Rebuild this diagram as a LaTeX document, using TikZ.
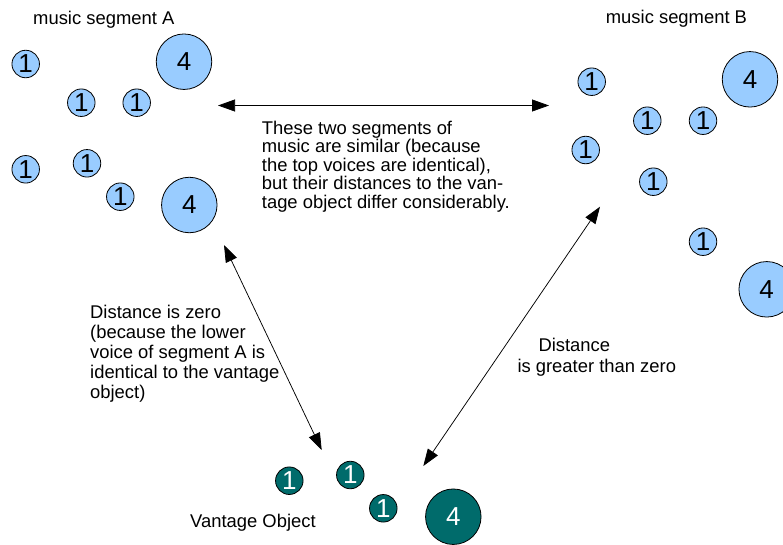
\documentclass[tikz,border=0pt]{standalone}
\usepackage{fontspec}
\setmainfont{Liberation Sans}
\usetikzlibrary{arrows.meta}
\definecolor{lblue}{HTML}{99CCFF}
\definecolor{tealv}{HTML}{006B6B}
\begin{document}
\begin{tikzpicture}[x=1pt,y=-1pt,
  smallc/.style={circle, draw=black, line width=0.8pt, fill=lblue, minimum size=27.5pt, inner sep=0pt, font=\fontsize{26}{26}\selectfont},
  bigc/.style={smallc, minimum size=55.5pt},
  vsmall/.style={smallc, fill=tealv, text=white},
  vbig/.style={bigc, fill=tealv, text=white},
  lbl/.style={inner sep=0pt, font=\fontsize{18.4}{19}\selectfont},
  arr/.style={{Triangle[length=17pt,width=12pt]}-{Triangle[length=17pt,width=12pt]}, line width=0.75pt, draw=black}]
\useasboundingbox (0,0) rectangle (783,544);
\clip (0,0) rectangle (783,544);
% segment A
\node[smallc] (a1) at (25.7,64) {1};
\node[bigc]   (a4) at (184,61.7) {4};
\node[smallc] (a2) at (81.3,102.7) {1};
\node[smallc] (a3) at (136.7,102.7) {1};
\node[smallc] (a5) at (25.7,169.3) {1};
\node[smallc] (a6) at (87,163.3) {1};
\node[smallc] (a7) at (120.3,196.7) {1};
\node[bigc]   (a8) at (189.3,205) {4};
% segment B
\node[smallc] (b1) at (591.7,81.7) {1};
\node[bigc]   (b4) at (750,79.3) {4};
\node[smallc] (b2) at (647.3,120.7) {1};
\node[smallc] (b3) at (703,120.7) {1};
\node[smallc] (b5) at (585.7,150) {1};
\node[smallc] (b6) at (653.3,181.7) {1};
\node[smallc] (b7) at (703,241.7) {1};
\node[bigc]   (b8) at (766.7,289.3) {4};
% vantage object
\node[vsmall] (v1) at (289.3,480.7) {1};
\node[vsmall] (v2) at (350.3,475) {1};
\node[vsmall] (v3) at (383.3,508.3) {1};
\node[vbig]   (v4) at (453.3,516.7) {4};
% labels
\node[lbl, anchor=base west] (tA) at (33,24) {music segment A};
\node[lbl, anchor=base west] (tB) at (605.7,23.3) {music segment B};
\node[lbl, anchor=base west] (tV) at (190,527.3) {Vantage Object};
\node[lbl, anchor=north west, align=left, font=\fontsize{18.4}{18.6}\selectfont] (tTop) at (261.7,120.5)
  {These two segments of\\music are similar (because\\the top voices are identical),\\but their distances to the van-\\tage object differ considerably.};
\node[lbl, anchor=north west, align=left, font=\fontsize{18.4}{20.2}\selectfont] (tLeft) at (90,304.5)
  {Distance is zero\\(because the lower\\voice of segment A is\\identical to the vantage\\object)};
\node[lbl, anchor=north west, align=left, font=\fontsize{18.4}{21}\selectfont] (tRight) at (517.3,337.5)
  {\hspace*{21pt}Distance\\is greater than zero};
% connectors
\coordinate (h1) at (218,105.5);
\coordinate (h2) at (549,105.5);
\coordinate (l1) at (224,245);
\coordinate (l2) at (321.7,450);
\coordinate (r1) at (600,206.7);
\coordinate (r2) at (423.3,466);
\draw[arr] (h1) -- (h2);
\draw[arr] (l1) -- (l2);
\draw[arr] (r1) -- (r2);
\end{tikzpicture}
\end{document}
